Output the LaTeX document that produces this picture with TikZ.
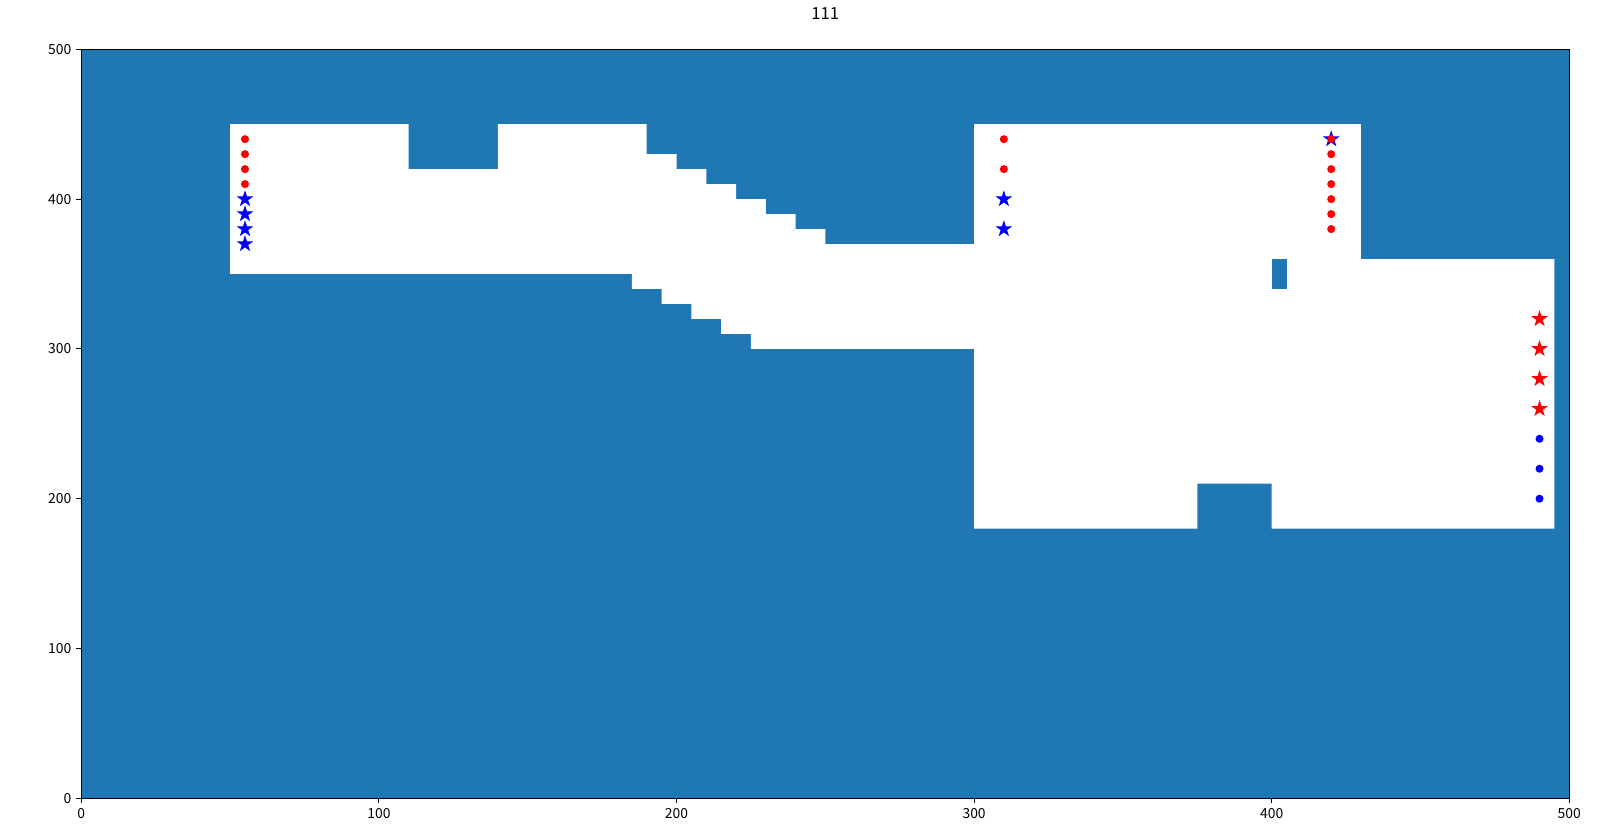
\documentclass[tikz,border=0pt]{standalone}
\usepackage{fontspec}
\setmainfont{Noto Sans CJK JP}
\usetikzlibrary{shapes.geometric}
\definecolor{tabblue}{HTML}{1F77B4}
\definecolor{mred}{HTML}{FF0000}
\definecolor{mblue}{HTML}{0000FF}
\tikzset{
  ptdot/.style={circle, fill=#1, inner sep=0pt, minimum size=5.8pt},
  ptstar/.style={star, star points=5, star point ratio=2.618, fill=#1, draw=#1, line width=0.7pt, line join=miter, inner sep=0pt, minimum size=10.4pt},
  axtick/.style={line width=0.8pt},
}
\begin{document}
\begin{tikzpicture}[x=2.14272pt, y=1.07856pt, font=\fontsize{10}{12}\selectfont]
    \useasboundingbox (-27.32,-25.17) rectangle (512.0,532.91);

    \fill[tabblue] (0,0) rectangle (500,500);
    \fill[white] (50,450) -- (110,450) -- (110,420) -- (140,420) -- (140,450)
        -- (190,450) -- (190,430) -- (200,430) -- (200,420) -- (210,420) -- (210,410)
        -- (220,410) -- (220,400) -- (230,400) -- (230,390) -- (240,390) -- (240,380)
        -- (250,380) -- (250,370) -- (300,370) -- (300,450) -- (430,450) -- (430,360)
        -- (495,360) -- (495,180) -- (400,180) -- (400,210) -- (375,210) -- (375,180)
        -- (300,180) -- (300,300) -- (225,300) -- (225,310) -- (215,310) -- (215,320)
        -- (205,320) -- (205,330) -- (195,330) -- (195,340) -- (185,340) -- (185,350)
        -- (50,350) -- cycle;
    \fill[tabblue] (400,340) rectangle (405,360);

    % markers
    \foreach \y in {440,430,420,410} \node[ptdot=mred] (a\y) at (55,\y) {};
    \foreach \y in {400,390,380,370} \node[ptstar=mblue] (A\y) at (55,\y) {};
    \foreach \y in {440,420} \node[ptdot=mred] (b\y) at (310,\y) {};
    \foreach \y in {400,380} \node[ptstar=mblue] (B\y) at (310,\y) {};
    \node[ptstar=mblue] (C440) at (420,440) {};
    \foreach \y in {440,430,...,380} \node[ptdot=mred] (c\y) at (420,\y) {};
    \foreach \y in {320,300,280,260} \node[ptstar=mred] (D\y) at (490,\y) {};
    \foreach \y in {240,220,200} \node[ptdot=mblue] (d\y) at (490,\y) {};

    % axes
    \draw[axtick] (0,0) rectangle (500,500);
    \foreach \v in {0,100,...,500} {
        \draw[axtick] (\v,0) -- ++(0pt,-3.5pt) coordinate (xt\v);
        \node[anchor=north, inner sep=0pt] (xl\v) at ([yshift=-3.5pt]xt\v) {\v};
        \draw[axtick] (0,\v) -- ++(-3.5pt,0pt) coordinate (yt\v);
        \node[anchor=east, inner sep=0pt] (yl\v) at ([xshift=-3.5pt]yt\v) {\v};
    }
    \node[anchor=base, font=\fontsize{12}{14}\selectfont] (title) at (250,520) {111};
\end{tikzpicture}
\end{document}
